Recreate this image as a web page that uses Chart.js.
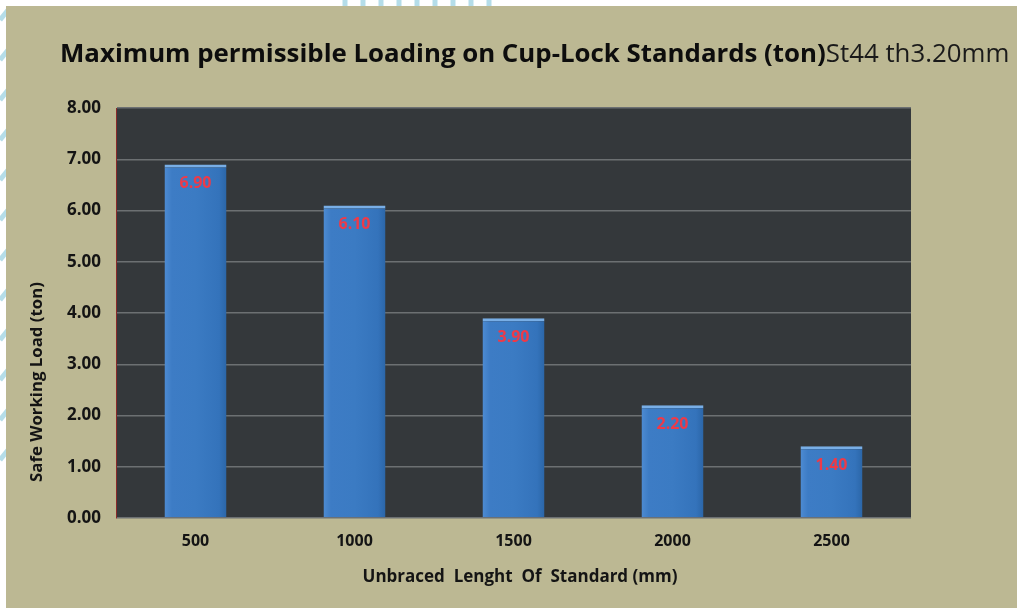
<!DOCTYPE html>
<html>
<head>
<meta charset="utf-8">
<script src="https://cdn.jsdelivr.net/npm/chart.js@4.4.1/dist/chart.umd.min.js"></script>
<style>
  html, body { margin: 0; padding: 0; background: #ffffff; }
  #wrap { position: relative; width: 1017px; height: 608px; overflow: hidden; }
  canvas { position: absolute; left: 0; top: 0; }
</style>
</head>
<body>
<div id="wrap"><canvas id="c" width="1017" height="608"></canvas></div>
<script>
const categories = ['500', '1000', '1500', '2000', '2500'];
const loads = [6.90, 6.10, 3.90, 2.20, 1.40];
const yTicks = [0, 1, 2, 3, 4, 5, 6, 7, 8];
const titleBold = 'Maximum permissible Loading on Cup-Lock Standards (ton)';
const titleNormal = 'St44 th3.20mm';
const yTitle = 'Safe Working Load (ton)';
const xTitle = 'Unbraced  Lenght  Of  Standard (mm)';

const FONT = '"Open Sans", "Noto Sans", sans-serif';

const decor = {
  id: 'decor',
  beforeDraw(chart) {
    const ctx = chart.ctx, W = chart.width, H = chart.height, a = chart.chartArea;
    ctx.save();
    ctx.fillStyle = '#ffffff';
    ctx.fillRect(0, 0, W, H);
    ctx.strokeStyle = '#b5dde9';
    ctx.lineWidth = 5;
    for (let i = 0; i < 9; i++) {
      const x = 345 + i * 18;
      ctx.beginPath(); ctx.moveTo(x, 0); ctx.lineTo(x, 8); ctx.stroke();
    }
    for (let i = 0; i < 12; i++) {
      ctx.beginPath(); ctx.moveTo(0, 20 + i * 40); ctx.lineTo(8, 10 + i * 40); ctx.stroke();
    }
    ctx.fillStyle = '#bcb893';
    ctx.fillRect(6, 6, W - 6, H - 6);
    ctx.fillStyle = '#34383b';
    ctx.fillRect(a.left, a.top, a.right - a.left, a.bottom - a.top);
    ctx.restore();
  },
  afterDraw(chart) {
    const ctx = chart.ctx;
    ctx.save();
    const targetW = 950, x0 = 60, yBase = 62;
    let size = 26;
    const measure = (s) => {
      ctx.font = 'bold ' + s + 'px ' + FONT;
      const w1 = ctx.measureText(titleBold).width;
      ctx.font = s + 'px ' + FONT;
      const w2 = ctx.measureText(titleNormal).width;
      return [w1, w2];
    };
    let [w1, w2] = measure(size);
    size = size * targetW / (w1 + w2);
    [w1, w2] = measure(size);
    ctx.fillStyle = '#0d0d0d';
    ctx.textBaseline = 'alphabetic';
    ctx.textAlign = 'left';
    ctx.font = 'bold ' + size + 'px ' + FONT;
    ctx.fillText(titleBold, x0, yBase);
    ctx.font = size + 'px ' + FONT;
    ctx.fillStyle = '#1a1a1a';
    ctx.fillText(titleNormal, x0 + w1, yBase);

    ctx.fillStyle = '#141414';
    ctx.font = 'bold 13px ' + FONT;
    const yw = ctx.measureText(yTitle).width;
    const ys = 13 * 200 / yw;
    ctx.font = 'bold ' + ys + 'px ' + FONT;
    ctx.translate(37, 382);
    ctx.rotate(-Math.PI / 2);
    ctx.textAlign = 'center';
    ctx.textBaseline = 'middle';
    ctx.fillText(yTitle, 0, 0);
    ctx.setTransform(1, 0, 0, 1, 0, 0);
    ctx.restore();

    ctx.save();
    ctx.fillStyle = '#141414';
    ctx.font = 'bold 14px ' + FONT;
    const xw = ctx.measureText(xTitle).width;
    const xs = 14 * 315 / xw;
    ctx.font = 'bold ' + xs + 'px ' + FONT;
    ctx.textAlign = 'center';
    ctx.textBaseline = 'middle';
    ctx.fillText(xTitle, 520, 577);
    ctx.restore();
  },
  afterDatasetsDraw(chart) {
    const ctx = chart.ctx;
    const meta = chart.getDatasetMeta(0);
    ctx.save();
    ctx.font = 'bold 16px ' + FONT;
    ctx.fillStyle = '#ee3a48';
    ctx.textAlign = 'center';
    ctx.textBaseline = 'middle';
    meta.data.forEach((bar, i) => {
      ctx.fillText(loads[i].toFixed(2), bar.x, bar.y + 19);
    });
    ctx.restore();
  }
};

new Chart(document.getElementById('c'), {
  type: 'bar',
  data: {
    labels: categories,
    datasets: [{
      data: loads,
      backgroundColor: (c) => {
        const chart = c.chart;
        if (!chart.chartArea || !chart.scales.x) return '#3b7bc4';
        const cx = chart.scales.x.getPixelForValue(c.dataIndex);
        const hw = 31;
        const g = chart.ctx.createLinearGradient(cx - hw, 0, cx + hw, 0);
        g.addColorStop(0, '#4d8bd2');
        g.addColorStop(0.12, '#3d7cc5');
        g.addColorStop(0.5, '#3b7bc3');
        g.addColorStop(0.88, '#3473bb');
        g.addColorStop(1, '#2b66a8');
        return g;
      },
      borderColor: '#78aee6',
      borderWidth: { top: 3, left: 0, right: 0, bottom: 0 },
      borderSkipped: 'bottom',
      barPercentage: 0.78,
      categoryPercentage: 0.5
    }]
  },
  options: {
    responsive: false,
    animation: false,
    devicePixelRatio: 1,
    layout: { padding: { left: 0, right: 106, top: 108, bottom: 0 } },
    plugins: {
      legend: { display: false },
      tooltip: { enabled: false },
      title: { display: false }
    },
    scales: {
      x: {
        afterFit(s) { s.height = 90; },
        grid: { display: false, drawTicks: false },
        border: { display: false },
        ticks: {
          padding: 14,
          color: '#141414',
          font: { family: FONT, weight: 'bold', size: 16 }
        }
      },
      y: {
        min: 0,
        max: 8,
        afterFit(s) { s.width = 116; },
        afterBuildTicks(s) { s.ticks = yTicks.map(v => ({ value: v })); },
        grid: { color: '#6c7072', lineWidth: 1.5, drawTicks: false },
        border: { display: true, color: '#8a2a2a', width: 1 },
        ticks: {
          padding: 15,
          color: '#141414',
          font: { family: FONT, weight: 'bold', size: 17 },
          callback: (v) => Number(v).toFixed(2)
        }
      }
    }
  },
  plugins: [decor]
});
</script>
</body>
</html>
